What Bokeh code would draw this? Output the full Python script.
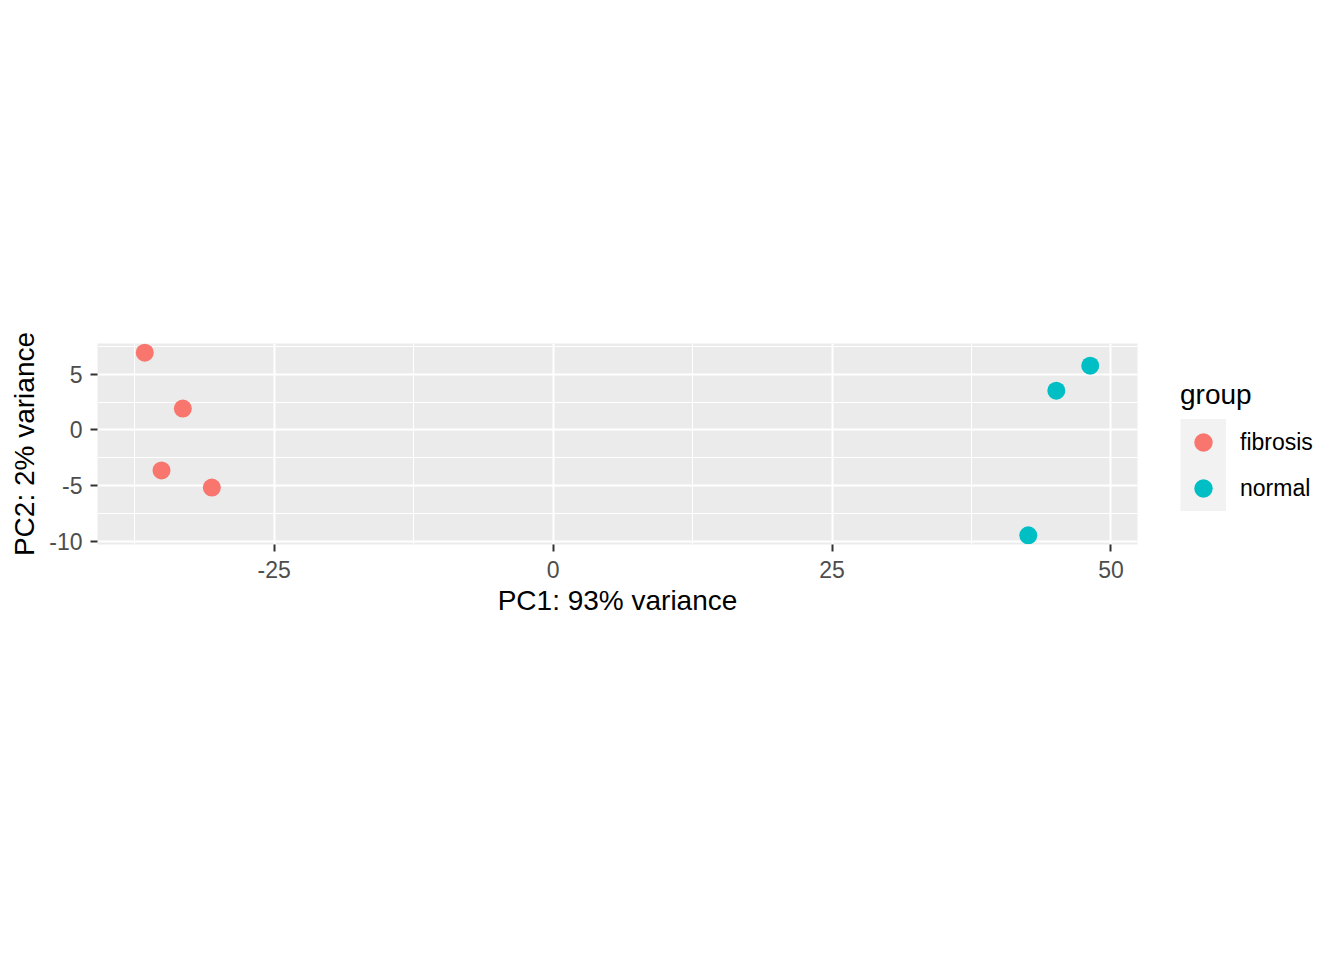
from bokeh.plotting import figure
from bokeh.models import ColumnDataSource, Range1d, FixedTicker, Legend, LegendItem
from bokeh.embed import file_html
from bokeh.resources import INLINE

# ---- data ----
groups = ["fibrosis", "normal"]
colors = ["#F8766D", "#00BFC4"]
fibrosis_pc1 = [-36.59, -33.18, -35.09, -30.58]
fibrosis_pc2 = [6.96, 1.92, -3.64, -5.19]
normal_pc1 = [48.14, 45.10, 42.59]
normal_pc2 = [5.79, 3.54, -9.49]
x_ticks = [-25, 0, 25, 50]
y_ticks = [-10, -5, 0, 5]
x_minor = [-37.5, -12.5, 12.5, 37.5]
y_minor = [-7.5, -2.5, 2.5, 7.5]
x_title = "PC1: 93% variance"
y_title = "PC2: 2% variance"
legend_title = "group"

FONT = "Liberation Sans"

all_x = fibrosis_pc1 + normal_pc1
all_y = fibrosis_pc2 + normal_pc2
def expand(vals, f=0.05):
    lo, hi = min(vals), max(vals)
    d = (hi - lo) * f
    return lo - d, hi + d

xr = expand(all_x)
yr = expand(all_y)

p = figure(
    frame_width=1040, frame_height=201,
    min_border_left=97, min_border_right=190, min_border_top=343, min_border_bottom=398,
    x_range=Range1d(*xr), y_range=Range1d(*yr),
    output_backend="svg", toolbar_location=None,
    background_fill_color="#EBEBEB", border_fill_color="white",
)
p.outline_line_color = None

p.xaxis.ticker = FixedTicker(ticks=x_ticks, minor_ticks=x_minor)
p.yaxis.ticker = FixedTicker(ticks=y_ticks, minor_ticks=y_minor)
p.xgrid.ticker = p.xaxis.ticker
p.ygrid.ticker = p.yaxis.ticker
p.xaxis.major_label_overrides = {t: str(t) for t in x_ticks}
p.yaxis.major_label_overrides = {t: str(t) for t in y_ticks}

for g in (p.xgrid, p.ygrid):
    g.grid_line_color = "white"
    g.grid_line_width = 2
    g.minor_grid_line_color = "white"
    g.minor_grid_line_width = 1

for ax in (p.xaxis, p.yaxis):
    ax.axis_line_color = None
    ax.minor_tick_line_color = None
    ax.major_tick_line_color = "#333333"
    ax.major_tick_line_width = 2
    ax.major_tick_out = 7
    ax.major_tick_in = 0
    ax.major_label_text_font = FONT
    ax.major_label_text_font_size = "23px"
    ax.major_label_text_color = "#4D4D4D"
    ax.axis_label_text_font = FONT
    ax.axis_label_text_font_size = "28px"
    ax.axis_label_text_font_style = "normal"
    ax.axis_label_text_color = "black"

p.xaxis.major_label_standoff = 9
p.yaxis.major_label_standoff = 8
p.xaxis.axis_label = x_title
p.yaxis.axis_label = y_title
p.xaxis.axis_label_standoff = 4
p.yaxis.axis_label_standoff = 6

src_f = ColumnDataSource(dict(x=fibrosis_pc1, y=fibrosis_pc2))
src_n = ColumnDataSource(dict(x=normal_pc1, y=normal_pc2))

# key background for the legend: a single-point line (draws nothing in the plot),
# whose legend glyph is a thick band filling the key box
key_src = ColumnDataSource(dict(x=fibrosis_pc1[:1], y=fibrosis_pc2[:1]))
bg = p.line("x", "y", source=key_src, line_width=47, line_color="#F2F2F2", line_cap="butt")

r_f = p.scatter("x", "y", source=src_f, size=18, fill_color=colors[0], line_color=None)
r_n = p.scatter("x", "y", source=src_n, size=18, fill_color=colors[1], line_color=None)

legend = Legend(
    items=[LegendItem(label=groups[0], renderers=[bg, r_f]),
           LegendItem(label=groups[1], renderers=[bg, r_n])],
    location=(43, 33),
    title=legend_title,
    title_text_font=FONT, title_text_font_size="28px", title_text_font_style="normal",
    title_text_color="black",
    title_standoff=8,
    label_text_font=FONT, label_text_font_size="23px", label_text_color="black",
    glyph_width=46, glyph_height=46, label_height=46, spacing=0, label_standoff=14,
    padding=0, margin=0, border_line_color=None, background_fill_alpha=0,
)
p.add_layout(legend, "right")

open("out.html", "w").write(file_html(p, INLINE))
